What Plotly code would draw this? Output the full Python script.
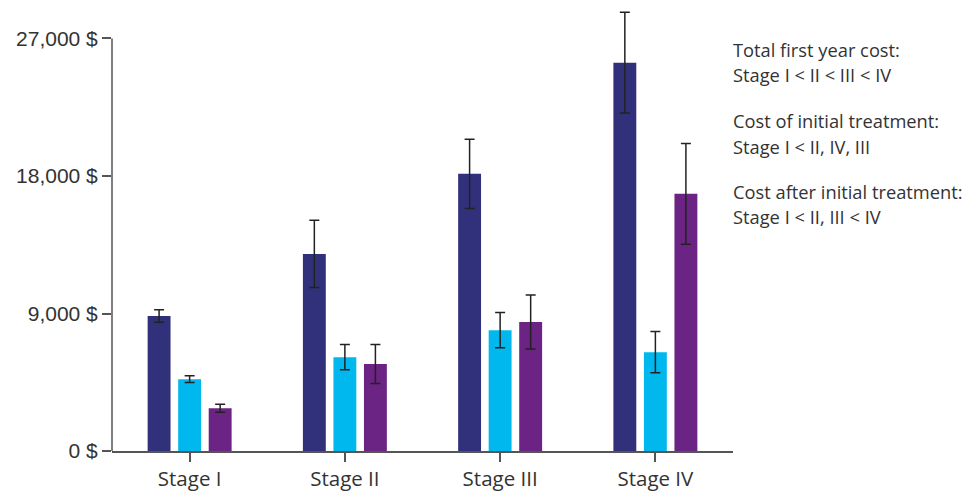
import plotly.graph_objects as go

categories = ["Stage I", "Stage II", "Stage III", "Stage IV"]
total_cost = [8830, 12900, 18140, 25420]
total_err = [410, 2200, 2270, 3300]
initial_cost = [4700, 6140, 7910, 6470]
initial_err = [220, 830, 1150, 1350]
after_cost = [2800, 5690, 8440, 16830]
after_err = [260, 1280, 1770, 3300]

tick_vals = [0, 9000, 18000, 27000]
tick_text = ["0 $", "9,000 $", "18,000 $", "27,000 $"]

notes = [
    "Total first year cost:",
    "Stage I < II < III < IV",
    "Cost of initial treatment:",
    "Stage I < II, IV, III",
    "Cost after initial treatment:",
    "Stage I < II, III < IV",
]
note_y = [26275, 24635, 21620, 19915, 16964, 15325]

colors = ["#31317B", "#00B8EE", "#6B2384"]
series = [(total_cost, total_err), (initial_cost, initial_err), (after_cost, after_err)]

fig = go.Figure()
for (vals, errs), c in zip(series, colors):
    fig.add_trace(go.Bar(
        x=categories, y=vals, marker=dict(color=c, line=dict(width=0)),
        error_y=dict(type="data", array=errs, visible=True, color="#222222", thickness=1.5, width=5),
        showlegend=False,
    ))

for t, y in zip(notes, note_y):
    fig.add_annotation(text=t, xref="paper", yref="y", x=1.0, y=y, xshift=-2,
                       xanchor="left", yanchor="middle", showarrow=False,
                       font=dict(family="Open Sans", size=18.3, color="#333333"))

# y axis line drawn only up to the top tick
fig.add_shape(type="line", xref="paper", yref="y", x0=0, x1=0, y0=0, y1=tick_vals[-1],
              line=dict(color="#555555", width=1.5))

fig.update_layout(
    width=976, height=491,
    margin=dict(l=104, r=251, t=1, b=48),
    barmode="group", bargap=0.41, bargroupgap=0.25,
    plot_bgcolor="white", paper_bgcolor="white",
    xaxis=dict(range=[-0.5, 3.5], showline=True, linecolor="#555555", linewidth=1.5,
               ticks="outside", ticklen=9, tickcolor="#555555", tickwidth=1.5,
               tickfont=dict(family="Open Sans", size=20.5, color="#333333"),
               showgrid=False, zeroline=False),
    yaxis=dict(range=[0, 28930], tickvals=tick_vals, ticktext=tick_text,
               showline=False,
               ticks="outside", ticklen=9, tickcolor="#555555", tickwidth=1.5,
               tickfont=dict(family="Liberation Sans", size=21, color="#333333"),
               showgrid=False, zeroline=False),
)

fig.write_html("out.html")
